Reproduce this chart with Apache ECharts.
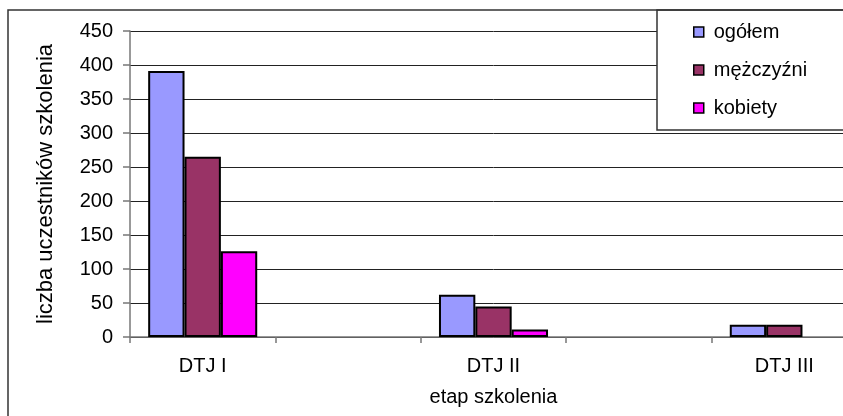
<!DOCTYPE html>
<html>
<head>
<meta charset="utf-8">
<script src="https://cdn.jsdelivr.net/npm/echarts@6/dist/echarts.min.js"></script>
<style>
  html, body { margin: 0; padding: 0; background: #fff; overflow: hidden; width: 843px; height: 416px; }
  #chart { width: 900px; height: 416px; }
</style>
</head>
<body>
<div id="chart"></div>
<script>
// Training stages (empty slots keep the wide spacing between stages)
const categories = ['DTJ I', '', 'DTJ II', '', 'DTJ III'];
const ogolem     = [391, null, 62, null, 18];
const mezczyzni  = [265, null, 45, null, 18];
const kobiety    = [126, null, 11, null, null];
const yTicks = { min: 0, max: 450, interval: 50 };

const FONT = '"Liberation Sans", Arial, sans-serif';
const chart = echarts.init(document.getElementById('chart'), null, { renderer: 'canvas' });

function barSeries(name, data, color) {
  return {
    name: name,
    type: 'bar',
    data: data,
    barGap: '0%',
    barCategoryGap: '25%',
    itemStyle: { color: color, borderColor: '#000', borderWidth: 2 },
    emphasis: { disabled: true }
  };
}

chart.setOption({
  animation: false,
  backgroundColor: '#fff',
  textStyle: { fontFamily: FONT },
  // plot area runs past the right edge of the visible page
  grid: { left: 130, top: 31, bottom: 79, right: 43, containLabel: false },
  graphic: [{
    type: 'rect',
    shape: { x: 8, y: 10, width: 950, height: 500 },
    style: { fill: 'none', stroke: '#333', lineWidth: 1.5 },
    z: 100
  }],
  legend: {
    orient: 'vertical',
    left: 657,
    top: 10,
    padding: [12, 140, 12, 36],
    itemGap: 18,
    itemWidth: 10,
    itemHeight: 10,
    icon: 'rect',
    backgroundColor: '#fff',
    borderColor: '#333',
    borderWidth: 1.5,
    itemStyle: { borderColor: '#000', borderWidth: 1.5 },
    textStyle: { fontFamily: FONT, fontSize: 20, color: '#000', lineHeight: 20, padding: [0, 0, 0, 5] },
    data: ['ogółem', 'mężczyźni', 'kobiety']
  },
  xAxis: {
    type: 'category',
    data: categories,
    name: 'etap szkolenia',
    nameLocation: 'middle',
    nameGap: 50,
    nameTextStyle: { fontFamily: FONT, fontSize: 20, color: '#000' },
    axisLine: { lineStyle: { color: '#777', width: 1.5 } },
    axisTick: { show: true, alignWithLabel: false, interval: 0, length: 6, lineStyle: { color: '#777', width: 1.5 } },
    axisLabel: { interval: 0, margin: 19, fontFamily: FONT, fontSize: 20, color: '#000' }
  },
  yAxis: {
    type: 'value',
    min: yTicks.min,
    max: yTicks.max,
    interval: yTicks.interval,
    name: 'liczba uczestników szkolenia',
    nameLocation: 'middle',
    nameGap: 73,
    nameTextStyle: { fontFamily: FONT, fontSize: 22, color: '#000' },
    axisLine: { show: true, lineStyle: { color: '#777', width: 1.5 } },
    axisTick: { show: true, length: 7, lineStyle: { color: '#777', width: 1.5 } },
    axisLabel: { margin: 17, fontFamily: FONT, fontSize: 20, color: '#000' },
    splitLine: { lineStyle: { color: '#222', width: 1 } }
  },
  series: [
    barSeries('ogółem', ogolem, '#9999FF'),
    barSeries('mężczyźni', mezczyzni, '#993366'),
    barSeries('kobiety', kobiety, '#FF00FF')
  ]
});
</script>
</body>
</html>
